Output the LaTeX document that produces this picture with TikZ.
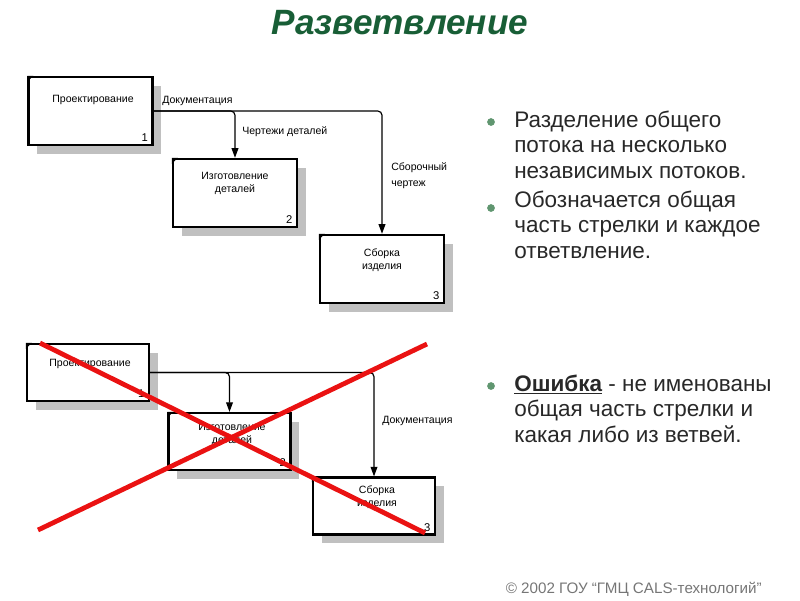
\documentclass[tikz,border=0pt]{standalone}
\usepackage{fontspec}
\setmainfont{Liberation Sans}
\usepackage{tikz}
\usetikzlibrary{
    arrows.meta,
    positioning,
    shadows,
    calc
}
\definecolor{slidegreen}{RGB}{24,94,54}
\definecolor{bulletgreen}{RGB}{96,150,112}
\definecolor{shadowgray}{RGB}{192,192,192}
\definecolor{crossred}{RGB}{234,18,18}
\definecolor{footgray}{RGB}{118,118,118}
\definecolor{bodytext}{RGB}{40,40,40}

\begin{document}
\begin{tikzpicture}[
    x=0.025cm,
    y=-0.025cm,
    idefbox/.style={
        draw=black,
        line width=1.7pt,
        fill=white,
        minimum width=3.1cm,
        minimum height=1.7cm,
        inner sep=0pt,
        drop shadow={
            shadow xshift=0.22cm,
            shadow yshift=-0.22cm,
            fill=shadowgray,
            opacity=1
        }
    },
    smallbox/.style={
        idefbox,
        minimum width=3.05cm,
        minimum height=1.42cm
    },
    boxtext/.style={
        font=\fontsize{7.5}{9.2}\selectfont,
        align=center,
        inner sep=0pt
    },
    boxnum/.style={
        font=\fontsize{8}{9}\selectfont,
        anchor=south east,
        inner xsep=4pt,
        inner ysep=3pt
    },
    flow/.style={
        -{Triangle[length=2.4mm,width=1.7mm]},
        line width=0.85pt,
        rounded corners=3pt
    },
    flowlabel/.style={
        font=\fontsize{7.5}{11.3}\selectfont,
        align=left,
        anchor=base west,
        inner sep=0pt
    },
    bulletdot/.style={
        circle,
        fill=bulletgreen,
        inner sep=0pt,
        minimum size=5.5pt
    },
    bullettext/.style={
        font=\fontsize{16}{18.1}\selectfont,
        text=bodytext,
        align=left,
        anchor=base west,
        inner sep=0pt
    },
    cross/.style={
        draw=crossred,
        line width=3.4pt
    }
]
\useasboundingbox (0,0) rectangle (800,600);

% title
\node[font=\fontsize{25}{28}\selectfont\bfseries\itshape, text=slidegreen,
      anchor=base] (title) at (400,34) {Разветвление};

% correct branching
\node[idefbox] (p1) at (90.5,111) {};
\node[idefbox] (p2) at (235,193) {};
\node[idefbox] (p3) at (382,269) {};

\node[boxtext] (p1-label) at (93,100) {Проектирование};
\node[boxtext] (p2-label) at (235,183) {Изготовление\\деталей};
\node[boxtext] (p3-label) at (382,260) {Сборка\\изделия};

\node[boxnum] (p1-num) at (p1.south east) {1};
\node[boxnum] (p2-num) at (p2.south east) {2};
\node[boxnum] (p3-num) at (p3.south east) {3};

\draw[flow] (p1.east) -| (p3.north);
\draw[flow] (p1.east) -| (p2.north);

\node[flowlabel] (doc-label) at (162,103) {Документация};
\node[flowlabel] (draw-label) at (242,134) {Чертежи деталей};
\node[flowlabel] (asm-label) at (391,186) {Сборочный\\чертеж};

% wrong branching
\node[smallbox] (b1) at (88,372.5) {};
\node[smallbox] (b2) at (229.5,441.5) {};
\node[smallbox] (b3) at (374,506) {};

\node[boxtext] (b1-label) at (90,364) {Проектирование};
\node[boxtext] (b2-label) at (232,434) {Изготовление\\деталей};
\node[boxtext] (b3-label) at (377,497) {Сборка\\изделия};

\node[boxnum] (b1-num) at (b1.south east) {1};
\node[boxnum] (b2-num) at (b2.south east) {2};
\node[boxnum] (b3-num) at (b3.south east) {3};

\draw[flow] (b1.east) -| (b3.north);
\draw[flow] (b1.east) -| (b2.north);

\node[flowlabel] (doc2-label) at (382,423) {Документация};

\foreach \b in {p1,p2,p3,b1,b2,b3}
    \fill (\b.north west) -- ++(6,0) -- ++(-6,6) -- cycle;

% crossing out
\coordinate (x1) at (40,343);
\coordinate (x2) at (425,533);
\coordinate (x3) at (38,530);
\coordinate (x4) at (427,344);
\draw[cross] (x1) -- (x2);
\draw[cross] (x3) -- (x4);

% bullet points (base = last line)
\node[bulletdot] (dot1) at (491,122) {};
\node[bullettext] (item1) at (514,178) {Разделение общего\\потока на несколько\\независимых потоков.};
\node[bulletdot] (dot2) at (491,208) {};
\node[bullettext] (item2) at (514,258) {Обозначается общая\\часть стрелки и каждое\\ответвление.};
\node[bulletdot] (dot3) at (491,386) {};
\node[bullettext] (item3) at (514,442) {\underline{\textbf{Ошибка}} - не именованы\\общая часть стрелки и\\какая либо из ветвей.};

% footer
\node[font=\fontsize{10.8}{13}\selectfont, text=footgray, anchor=base east,
      inner sep=0pt] (footer) at (762,593) {© 2002 ГОУ “ГМЦ CALS-технологий”};

\end{tikzpicture}
\end{document}
